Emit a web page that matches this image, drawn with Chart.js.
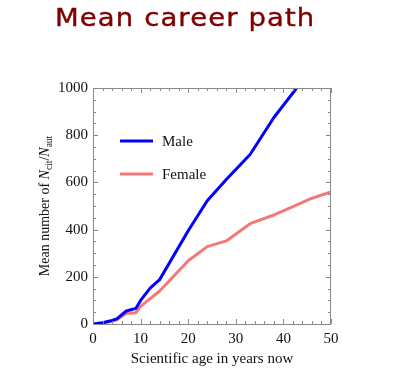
<!DOCTYPE html>
<html>
<head>
<meta charset="utf-8">
<script src="https://cdn.jsdelivr.net/npm/chart.js@4"></script>
<style>
  html, body { margin: 0; padding: 0; background: #fff; }
  #wrap { position: relative; width: 400px; height: 385px; }
  #title { position: absolute; left: 55px; top: 3px; white-space: nowrap; line-height: 30px;
           font-family: "DejaVu Sans", sans-serif; font-size: 25px; letter-spacing: 1px;
           color: #800000; transform: scaleX(1.1); transform-origin: 0 0;
           -webkit-text-stroke: 0.4px #800000; }
  canvas { position: absolute; left: 0; top: 0; }
</style>
</head>
<body>
<div id="wrap">
  <canvas id="c" width="400" height="385"></canvas>
  <div id="title">Mean career path</div>
</div>
<script>
// ---- data ----
const maleAges     = [0, 2, 4, 5, 7, 9, 10, 12, 14, 20, 24, 28, 33, 38, 43];
const maleValues   = [0, 5, 15, 22, 55, 66, 100, 152, 188, 395, 522, 612, 718, 875, 1005];
const femaleAges   = [0, 2, 4, 5, 7, 9, 10, 14, 20, 24, 28, 33, 38, 42, 46, 50];
const femaleValues = [0, 4, 12, 18, 45, 48, 75, 140, 268, 328, 352, 425, 462, 497, 533, 560];
const seriesNames  = ["Male", "Female"];
const xTicks = [0, 10, 20, 30, 40, 50];
const yTicks = [0, 200, 400, 600, 800, 1000];
const xTitle = "Scientific age in years now";

const toPts = (xs, ys) => xs.map((x, i) => ({ x: x, y: ys[i] }));
const COLORS = ["#0000ff", "#f47878"];
const SERIF = '"Liberation Serif", "Times New Roman", serif';

const decor = {
  id: "decor",
  afterDraw(chart) {
    const ctx = chart.ctx, a = chart.chartArea;
    const xs = chart.scales.x, ys = chart.scales.y;
    ctx.save();
    // frame
    ctx.strokeStyle = "#8a8a8a";
    ctx.lineWidth = 1;
    ctx.strokeRect(a.left + 0.5, a.top + 0.5, a.right - a.left - 1, a.bottom - a.top);
    // inward ticks
    ctx.beginPath();
    for (let v = 0; v <= 50; v += 2) {
      const px = Math.round(xs.getPixelForValue(v)) + 0.5;
      const len = (v % 10 === 0) ? 5 : 3;
      ctx.moveTo(px, a.bottom); ctx.lineTo(px, a.bottom - len);
      ctx.moveTo(px, a.top); ctx.lineTo(px, a.top + len);
    }
    for (let v = 0; v <= 1000; v += 50) {
      const py = Math.round(ys.getPixelForValue(v)) + 0.5;
      const len = (v % 200 === 0) ? 5 : 3;
      ctx.moveTo(a.left, py); ctx.lineTo(a.left + len, py);
      ctx.moveTo(a.right, py); ctx.lineTo(a.right - len, py);
    }
    ctx.stroke();

    // legend inside plot
    ctx.lineWidth = 3;
    ctx.lineCap = "butt";
    ctx.font = "15px " + SERIF;
    ctx.textBaseline = "middle";
    ctx.fillStyle = "#111";
    const rows = [a.top + 53, a.top + 86];
    chart.data.datasets.forEach((ds, i) => {
      ctx.strokeStyle = ds.borderColor;
      ctx.beginPath();
      ctx.moveTo(a.left + 27, rows[i]); ctx.lineTo(a.left + 60, rows[i]);
      ctx.stroke();
      ctx.fillText(ds.label, a.left + 69, rows[i] + 1);
    });

    // x axis title
    ctx.textAlign = "center";
    ctx.textBaseline = "middle";
    ctx.fillText(xTitle, (a.left + a.right) / 2, a.bottom + 35);

    // y axis title with italics and subscripts
    const segs = [
      { t: "Mean number of ", f: "14px " + SERIF, dy: 0 },
      { t: "N", f: "italic 14px " + SERIF, dy: 0 },
      { t: "cit", f: "9.5px " + SERIF, dy: 3 },
      { t: "/", f: "14px " + SERIF, dy: 0 },
      { t: "N", f: "italic 14px " + SERIF, dy: 0 },
      { t: "aut", f: "9.5px " + SERIF, dy: 3 }
    ];
    let total = 0;
    segs.forEach(s => { ctx.font = s.f; s.w = ctx.measureText(s.t).width; total += s.w; });
    ctx.translate(a.left - 49, (a.top + a.bottom) / 2);
    ctx.rotate(-Math.PI / 2);
    ctx.textAlign = "left";
    ctx.textBaseline = "alphabetic";
    let x0 = -total / 2;
    segs.forEach(s => { ctx.font = s.f; ctx.fillText(s.t, x0, 5 + s.dy); x0 += s.w; });
    ctx.restore();
  }
};

new Chart(document.getElementById("c"), {
  type: "line",
  data: {
    datasets: [
      { label: seriesNames[0], data: toPts(maleAges, maleValues), borderColor: COLORS[0],
        borderWidth: 3, pointRadius: 0, tension: 0, borderJoinStyle: "round" },
      { label: seriesNames[1], data: toPts(femaleAges, femaleValues), borderColor: COLORS[1],
        borderWidth: 3, pointRadius: 0, tension: 0, borderJoinStyle: "round" }
    ]
  },
  options: {
    responsive: false,
    animation: false,
    events: [],
    layout: { padding: { left: 0, right: 69, top: 88, bottom: 0 } },
    plugins: { legend: { display: false }, tooltip: { enabled: false }, title: { display: false } },
    scales: {
      x: {
        type: "linear", min: 0, max: 50,
        afterFit: s => { s.height = 61; },
        afterBuildTicks: s => { s.ticks = xTicks.map(v => ({ value: v })); },
        grid: { display: false, drawTicks: false },
        border: { display: false },
        ticks: { padding: 6, color: "#111", font: { family: SERIF, size: 15 }, maxRotation: 0,
                 callback: v => String(v) }
      },
      y: {
        type: "linear", min: 0, max: 1000,
        afterFit: s => { s.width = 93; },
        afterBuildTicks: s => { s.ticks = yTicks.map(v => ({ value: v })); },
        grid: { display: false, drawTicks: false },
        border: { display: false },
        ticks: { padding: 5, color: "#111", font: { family: SERIF, size: 15 },
                 callback: v => String(v) }
      }
    }
  },
  plugins: [decor]
});
</script>
</body>
</html>
